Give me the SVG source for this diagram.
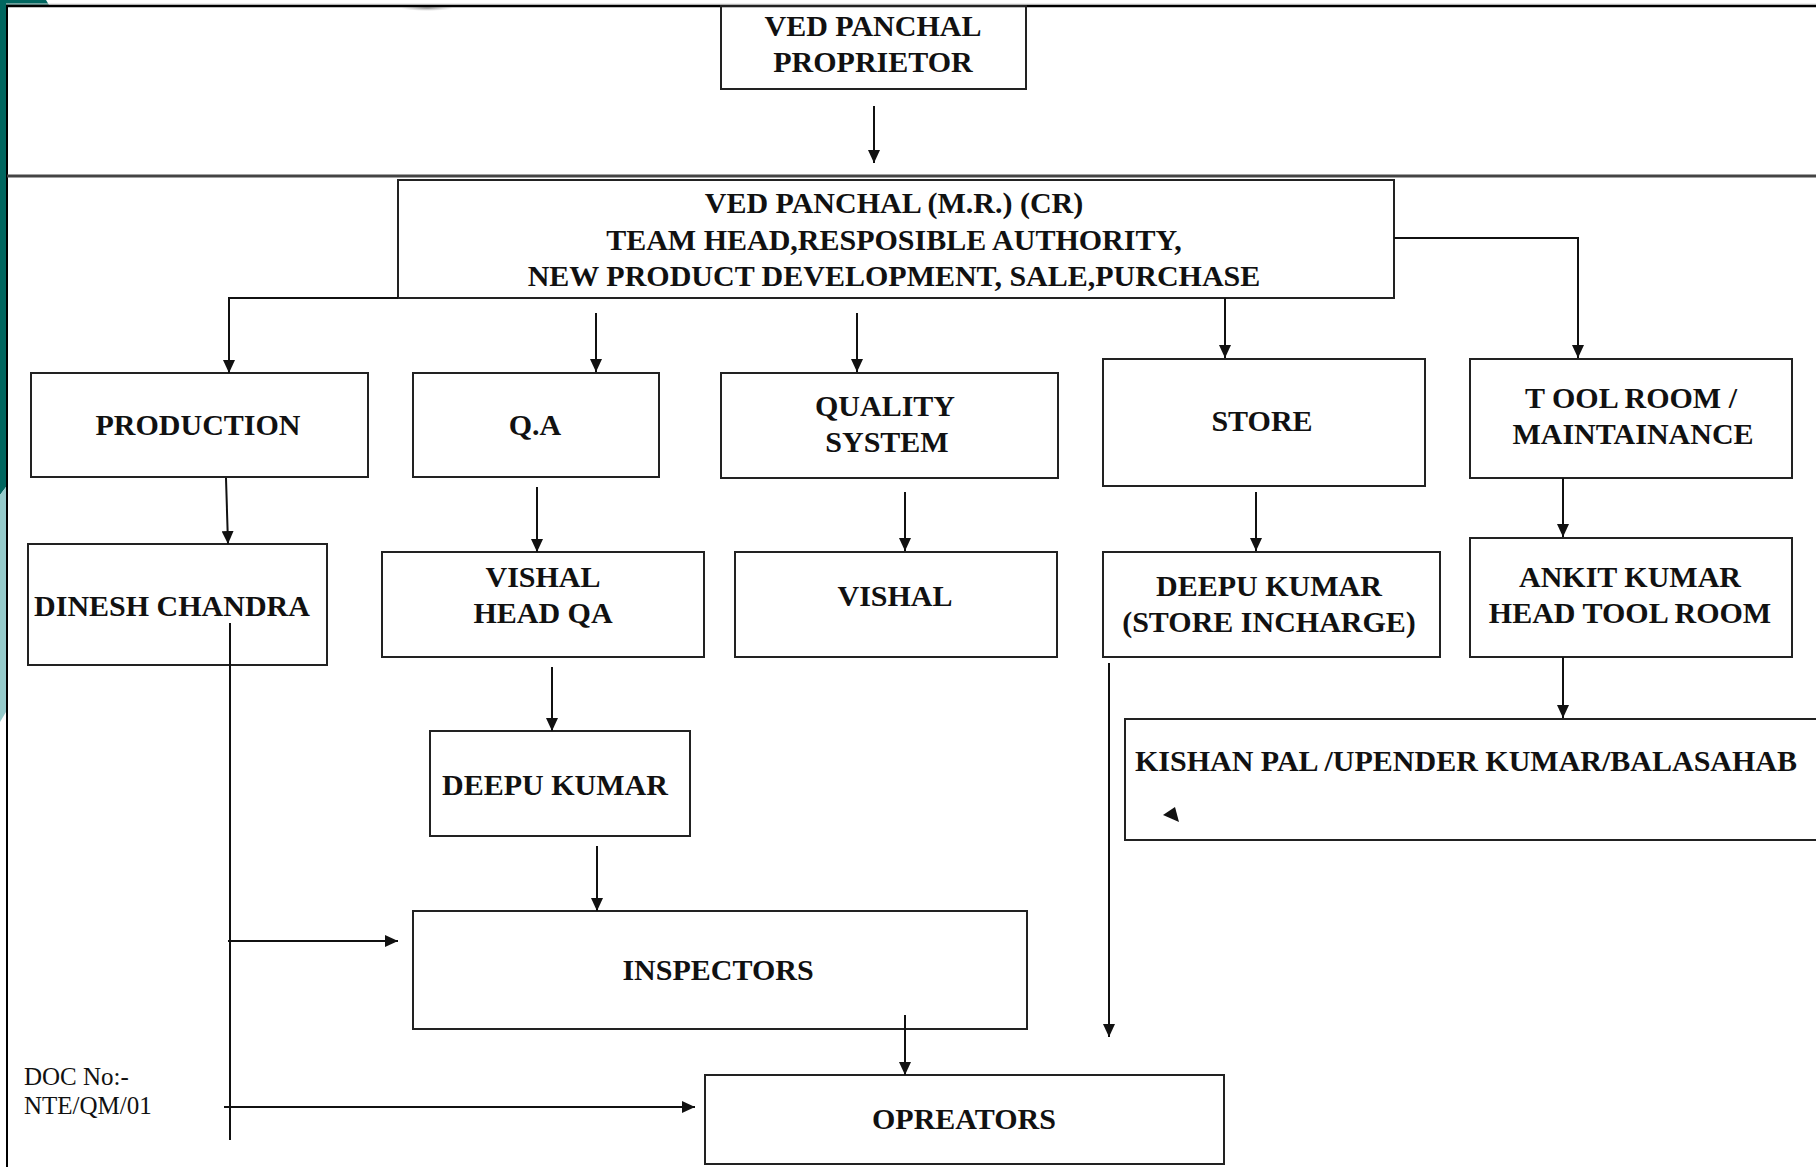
<svg xmlns="http://www.w3.org/2000/svg" width="1816" height="1167" viewBox="0 0 1816 1167">
<style>
.box{fill:none;stroke:#222;stroke-width:2}
.t{font-family:"Liberation Serif","Times New Roman",serif;font-weight:bold;font-size:30px;fill:#111;text-anchor:middle}
.doc{font-family:"Liberation Serif","Times New Roman",serif;font-size:25px;fill:#111}
.c{fill:none;stroke:#111;stroke-width:2}
</style>
<defs>
<marker id="ah" markerUnits="userSpaceOnUse" markerWidth="13" markerHeight="12" refX="13" refY="6" orient="auto">
<path d="M0,0 L13,6 L0,12 z" fill="#111"/>
</marker>
<radialGradient id="sh" cx="0.5" cy="0.5" r="0.5">
<stop offset="0" stop-color="#777" stop-opacity="0.8"/>
<stop offset="1" stop-color="#aaa" stop-opacity="0"/>
</radialGradient>
</defs>
<rect x="0" y="0" width="1816" height="1167" fill="#fff"/>
<g id="decor">
<polygon points="0,0 46,0 49,5 0,5" fill="#00665f"/>
<polygon points="0,0 6,0 6,487 0,495" fill="#00665f"/>
<polygon points="0,495 6,487 6,712 0,722" fill="#95cbcb"/>
<line x1="6" y1="4" x2="1816" y2="4" stroke="#ddd" stroke-width="1"/>
<ellipse cx="427" cy="8" rx="26" ry="3" fill="url(#sh)"/>
<line x1="6" y1="6" x2="1816" y2="6" stroke="#000" stroke-width="2.5"/>
<line x1="7" y1="5" x2="7" y2="1167" stroke="#000" stroke-width="2"/>
<line x1="7" y1="176" x2="1816" y2="176" stroke="#444" stroke-width="3"/>
</g>
<g id="n-proprietor">
<rect class="box" x="721" y="6" width="305" height="83"/>
<text class="t" x="873" y="36">VED PANCHAL</text>
<text class="t" x="873" y="72">PROPRIETOR</text>
</g>
<g id="n-mr">
<rect class="box" x="398" y="180" width="996" height="118"/>
<text class="t" x="894" y="213">VED PANCHAL (M.R.) (CR)</text>
<text class="t" x="894" y="250">TEAM HEAD,RESPOSIBLE AUTHORITY,</text>
<text class="t" x="894" y="286">NEW PRODUCT DEVELOPMENT, SALE,PURCHASE</text>
</g>
<g id="n-production">
<rect class="box" x="31" y="373" width="337" height="104"/>
<text class="t" x="198" y="435">PRODUCTION</text>
</g>
<g id="n-qa">
<rect class="box" x="413" y="373" width="246" height="104"/>
<text class="t" x="535" y="435">Q.A</text>
</g>
<g id="n-qs">
<rect class="box" x="721" y="373" width="337" height="105"/>
<text class="t" x="885" y="416">QUALITY</text>
<text class="t" x="887" y="452">SYSTEM</text>
</g>
<g id="n-store">
<rect class="box" x="1103" y="359" width="322" height="127"/>
<text class="t" x="1262" y="431">STORE</text>
</g>
<g id="n-toolroom">
<rect class="box" x="1470" y="359" width="322" height="119"/>
<text class="t" x="1631" y="408">T OOL ROOM /</text>
<text class="t" x="1633" y="444">MAINTAINANCE</text>
</g>
<g id="n-dinesh">
<rect class="box" x="28" y="544" width="299" height="121"/>
<text class="t" x="172" y="616">DINESH CHANDRA</text>
</g>
<g id="n-vishal-qa">
<rect class="box" x="382" y="552" width="322" height="105"/>
<text class="t" x="543" y="587">VISHAL</text>
<text class="t" x="543" y="623">HEAD QA</text>
</g>
<g id="n-vishal">
<rect class="box" x="735" y="552" width="322" height="105"/>
<text class="t" x="895" y="606">VISHAL</text>
</g>
<g id="n-deepu-store">
<rect class="box" x="1103" y="552" width="337" height="105"/>
<text class="t" x="1269" y="596">DEEPU KUMAR</text>
<text class="t" x="1269" y="632">(STORE INCHARGE)</text>
</g>
<g id="n-ankit">
<rect class="box" x="1470" y="538" width="322" height="119"/>
<text class="t" x="1630" y="587">ANKIT KUMAR</text>
<text class="t" x="1630" y="623">HEAD TOOL ROOM</text>
</g>
<g id="n-deepu-qa">
<rect class="box" x="430" y="731" width="260" height="105"/>
<text class="t" x="555" y="795">DEEPU KUMAR</text>
</g>
<g id="n-kishan">
<rect class="box" x="1125" y="719" width="720" height="121"/>
<text class="t" x="1135" y="771" style="text-anchor:start">KISHAN PAL /UPENDER KUMAR/BALASAHAB</text>
<polygon points="1163,815 1175,807 1179,822" fill="#111"/>
</g>
<g id="n-inspectors">
<rect class="box" x="413" y="911" width="614" height="118"/>
<text class="t" x="718" y="980">INSPECTORS</text>
</g>
<g id="n-operators">
<rect class="box" x="705" y="1075" width="519" height="89"/>
<text class="t" x="964" y="1129">OPREATORS</text>
</g>
<g id="doc">
<text class="doc" x="24" y="1085">DOC No:-</text>
<text class="doc" x="24" y="1114">NTE/QM/01</text>
</g>
<g id="connectors">
<path class="c" d="M874,106 V163" marker-end="url(#ah)"/>
<path class="c" d="M398,298 H229 V373" marker-end="url(#ah)"/>
<path class="c" d="M596,313 V372" marker-end="url(#ah)"/>
<path class="c" d="M857,313 V372" marker-end="url(#ah)"/>
<path class="c" d="M1225,298 V358" marker-end="url(#ah)"/>
<path class="c" d="M1394,238 H1578 V358" marker-end="url(#ah)"/>
<path class="c" d="M226,478 L228,544" marker-end="url(#ah)"/>
<path class="c" d="M537,487 V552" marker-end="url(#ah)"/>
<path class="c" d="M905,492 V551" marker-end="url(#ah)"/>
<path class="c" d="M1256,492 V551" marker-end="url(#ah)"/>
<path class="c" d="M1563,478 V537" marker-end="url(#ah)"/>
<path class="c" d="M552,667 V731" marker-end="url(#ah)"/>
<path class="c" d="M1563,657 V718" marker-end="url(#ah)"/>
<path class="c" d="M230,623 V1140"/>
<path class="c" d="M228,941 H398" marker-end="url(#ah)"/>
<path class="c" d="M224,1107 H695" marker-end="url(#ah)"/>
<path class="c" d="M597,846 V911" marker-end="url(#ah)"/>
<path class="c" d="M905,1015 V1075" marker-end="url(#ah)"/>
<path class="c" d="M1109,663 V1037" marker-end="url(#ah)"/>
</g>
</svg>
